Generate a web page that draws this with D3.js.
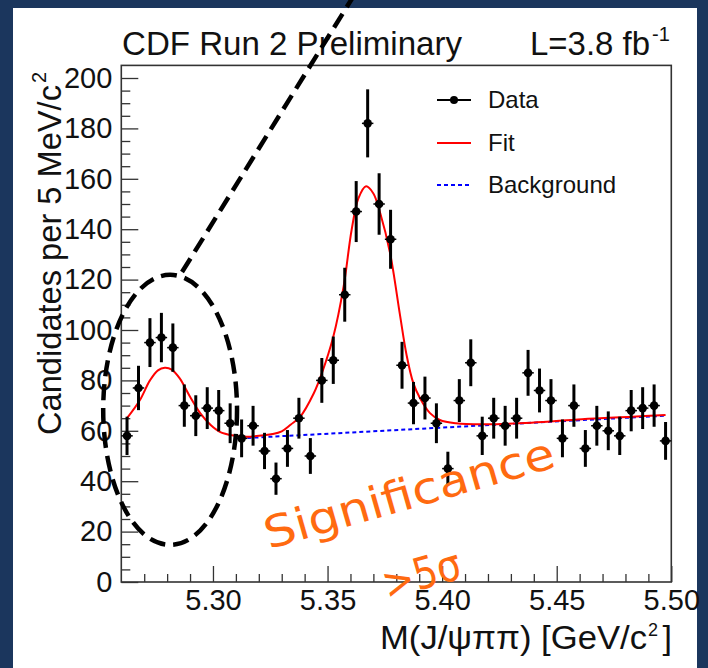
<!DOCTYPE html>
<html>
<head>
<meta charset="utf-8">
<script src="https://cdn.jsdelivr.net/npm/d3@7"></script>
<style>
  html, body { margin: 0; padding: 0; background: #1b365d; }
  svg { display: block; }
</style>
</head>
<body>
<svg id="chart" width="708" height="668"></svg>
<script>
// Bin centres of M(J/psi pi pi), 5 MeV bins from 5.26 to 5.50 GeV/c^2
const binMass = [
  5.2625, 5.2675, 5.2725, 5.2775, 5.2825, 5.2875, 5.2925, 5.2975,
  5.3025, 5.3075, 5.3125, 5.3175, 5.3225, 5.3275, 5.3325, 5.3375,
  5.3425, 5.3475, 5.3525, 5.3575, 5.3625, 5.3675, 5.3725, 5.3775,
  5.3825, 5.3875, 5.3925, 5.3975, 5.4025, 5.4075, 5.4125, 5.4175,
  5.4225, 5.4275, 5.4325, 5.4375, 5.4425, 5.4475, 5.4525, 5.4575,
  5.4625, 5.4675, 5.4725, 5.4775, 5.4825, 5.4875, 5.4925, 5.4975
];
// Candidates per bin
const binCounts = [
  58, 77, 95, 97, 93, 70, 66, 69,
  68, 63, 57, 62, 52, 41, 53, 65,
  50, 80, 88, 114, 147, 182, 150, 136,
  86, 71, 73, 63, 45, 72, 87, 58,
  65, 62, 65, 83, 76, 72, 57, 70,
  53, 62, 60, 58, 68, 69, 70, 56
];
// Statistical uncertainty per bin
const binErrors = [
  7.6, 8.8, 9.7, 9.8, 9.6, 8.4, 8.1, 8.3,
  8.2, 7.9, 7.5, 7.9, 7.2, 6.4, 7.3, 8.1,
  7.1, 8.9, 9.4, 10.7, 12.1, 13.5, 12.2, 11.7,
  9.3, 8.4, 8.5, 7.9, 6.7, 8.5, 9.3, 7.6,
  8.1, 7.9, 8.1, 9.1, 8.7, 8.5, 7.5, 8.4,
  7.3, 7.9, 7.7, 7.6, 8.2, 8.3, 8.4, 7.5
];
// Fit curve, sampled along its length
const fitMass = [
  5.2625, 5.2680, 5.2725, 5.2760, 5.2790, 5.2820, 5.2855, 5.2900,
  5.2945, 5.2990, 5.3030, 5.3090, 5.3130, 5.3190, 5.3260, 5.3300,
  5.3340, 5.3380, 5.3440, 5.3475, 5.3525, 5.3570, 5.3605, 5.3635,
  5.3668, 5.3700, 5.3730, 5.3773, 5.3816, 5.3845, 5.3874, 5.3903,
  5.3947, 5.3990, 5.4060, 5.4175, 5.4390, 5.4610, 5.4830, 5.4975
];
const fitValue = [
  65.0, 72.0, 80.0, 84.0, 85.0, 84.3, 80.8, 73.5,
  66.9, 62.3, 59.6, 58.1, 57.7, 57.9, 58.7, 59.8,
  62.5, 65.5, 74.9, 82.8, 97.3, 117.2, 139.7, 152.3,
  157.0, 154.2, 146.3, 130.4, 106.0, 90.0, 79.0, 73.0,
  67.0, 64.3, 63.0, 62.6, 63.2, 64.6, 65.6, 66.3
];
// Background component (linear)
const bkgMass = [5.312, 5.4975];
const bkgValue = [57.0, 66.0];

// Axis ticks
const xMajorTicks = [5.30, 5.35, 5.40, 5.45, 5.50];
const xMinorTicks = [5.27, 5.28, 5.29, 5.31, 5.32, 5.33, 5.34, 5.36, 5.37, 5.38, 5.39,
                     5.41, 5.42, 5.43, 5.44, 5.46, 5.47, 5.48, 5.49];
const yMajorTicks = [0, 20, 40, 60, 80, 100, 120, 140, 160, 180, 200];
const yMinorTicks = [5, 10, 15, 25, 30, 35, 45, 50, 55, 65, 70, 75, 85, 90, 95,
                     105, 110, 115, 125, 130, 135, 145, 150, 155, 165, 170, 175,
                     185, 190, 195];

// Legend entries
const legendLabels = ["Data", "Fit", "Background"];

// Annotation: ellipse around the low-mass bump and its pointer
const ringCentre = [5.2813, 68.3];
const ringRadius = [0.0292, 53.6];
const pointerFrom = [5.2865, 123];
const pointerTo = [5.3610, 232];

const FONT = "'Liberation Sans', Arial, Helvetica, sans-serif";

const svg = d3.select("#chart");

// page frame
svg.append("rect").attr("x", 0).attr("y", 0).attr("width", 708).attr("height", 668)
  .attr("fill", "#1b365d");
svg.append("rect").attr("x", 13).attr("y", 8).attr("width", 684).attr("height", 660)
  .attr("fill", "#ffffff");

const x = d3.scaleLinear().domain([5.26, 5.50]).range([121.3, 671.3]);
const y = d3.scaleLinear().domain([0, 205]).range([582, 65.4]);

// ticks (drawn inward, ROOT style)
const axisColour = "#333";
const gx = svg.append("g").attr("transform", `translate(0,${y(0)})`);
gx.call(d3.axisBottom(x).tickValues(xMinorTicks).tickSizeInner(-8).tickSizeOuter(0).tickFormat(""));
gx.call(g => g.select(".domain").remove());
const gxMaj = svg.append("g").attr("transform", `translate(0,${y(0)})`);
gxMaj.call(d3.axisBottom(x).tickValues(xMajorTicks).tickSizeInner(-16).tickSizeOuter(0)
  .tickPadding(7).tickFormat(d3.format(".2f")));
gxMaj.call(g => g.select(".domain").remove());

const gy = svg.append("g").attr("transform", `translate(${x(5.26)},0)`);
gy.call(d3.axisLeft(y).tickValues(yMinorTicks).tickSizeInner(-9).tickSizeOuter(0).tickFormat(""));
gy.call(g => g.select(".domain").remove());
const gyMaj = svg.append("g").attr("transform", `translate(${x(5.26)},0)`);
gyMaj.call(d3.axisLeft(y).tickValues(yMajorTicks).tickSizeInner(-17).tickSizeOuter(0)
  .tickPadding(9).tickFormat(d3.format("d")));
gyMaj.call(g => g.select(".domain").remove());

svg.selectAll(".tick line").attr("stroke", axisColour).attr("stroke-width", 1.3);
svg.selectAll(".tick text").attr("font-family", FONT).attr("font-size", 29).attr("fill", "#111");

// plot frame
svg.append("rect")
  .attr("x", x(5.26)).attr("y", y(205))
  .attr("width", x(5.50) - x(5.26)).attr("height", y(0) - y(205))
  .attr("fill", "none").attr("stroke", axisColour).attr("stroke-width", 1.6);

// background component
const bkgPts = bkgMass.map((m, i) => [m, bkgValue[i]]);
svg.append("path")
  .attr("d", d3.line().x(d => x(d[0])).y(d => y(d[1]))(bkgPts))
  .attr("fill", "none").attr("stroke", "#0000ff").attr("stroke-width", 2)
  .attr("stroke-dasharray", "4 3");

// total fit
const fitPts = fitMass.map((m, i) => [m, fitValue[i]]);
svg.append("path")
  .attr("d", d3.line().x(d => x(d[0])).y(d => y(d[1])).curve(d3.curveCatmullRom)(fitPts))
  .attr("fill", "none").attr("stroke", "#ff0000").attr("stroke-width", 2);

// data points with error bars
const pts = binMass.map((m, i) => ({ m, n: binCounts[i], e: binErrors[i] }));
const gp = svg.append("g");
gp.selectAll("line.err").data(pts).join("line").attr("class", "err")
  .attr("x1", d => x(d.m)).attr("x2", d => x(d.m))
  .attr("y1", d => y(d.n + d.e)).attr("y2", d => y(d.n - d.e))
  .attr("stroke", "#000").attr("stroke-width", 3);
gp.selectAll("line.hbar").data(pts).join("line").attr("class", "hbar")
  .attr("x1", d => x(d.m - 0.0025)).attr("x2", d => x(d.m + 0.0025))
  .attr("y1", d => y(d.n)).attr("y2", d => y(d.n))
  .attr("stroke", "#000").attr("stroke-width", 1.5);
gp.selectAll("circle").data(pts).join("circle")
  .attr("cx", d => x(d.m)).attr("cy", d => y(d.n)).attr("r", 4.3).attr("fill", "#000");

// legend
const lg = svg.append("g").attr("font-family", FONT).attr("font-size", 24).attr("fill", "#111");
const legendY = [100, 143, 185];
legendLabels.forEach((t, i) => {
  lg.append("text").attr("x", 488).attr("y", legendY[i]).attr("dy", "0.35em").text(t);
});
lg.append("line").attr("x1", 437).attr("x2", 471).attr("y1", legendY[0]).attr("y2", legendY[0])
  .attr("stroke", "#000").attr("stroke-width", 2);
lg.append("circle").attr("cx", 454).attr("cy", legendY[0]).attr("r", 4).attr("fill", "#000");
lg.append("line").attr("x1", 437).attr("x2", 471).attr("y1", legendY[1]).attr("y2", legendY[1])
  .attr("stroke", "#ff0000").attr("stroke-width", 2);
lg.append("line").attr("x1", 437).attr("x2", 471).attr("y1", legendY[2]).attr("y2", legendY[2])
  .attr("stroke", "#0000ff").attr("stroke-width", 2).attr("stroke-dasharray", "4 3");

// titles
svg.append("text").attr("x", 122).attr("y", 55)
  .attr("font-family", FONT).attr("font-size", 34).attr("fill", "#111")
  .attr("textLength", 340).attr("lengthAdjust", "spacingAndGlyphs")
  .text("CDF Run 2 Preliminary");
svg.append("text").attr("x", 530).attr("y", 55)
  .attr("font-family", FONT).attr("font-size", 34).attr("fill", "#111")
  .attr("textLength", 120).attr("lengthAdjust", "spacingAndGlyphs")
  .text("L=3.8 fb");
svg.append("text").attr("x", 652).attr("y", 41)
  .attr("font-family", FONT).attr("font-size", 20).attr("fill", "#111")
  .text("-1");

// x-axis title
svg.append("text").attr("x", 380).attr("y", 649)
  .attr("font-family", FONT).attr("font-size", 34).attr("fill", "#111")
  .attr("textLength", 267).attr("lengthAdjust", "spacingAndGlyphs")
  .text("M(J/ψππ) [GeV/c");
svg.append("text").attr("x", 648).attr("y", 636)
  .attr("font-family", FONT).attr("font-size", 18).attr("fill", "#111").text("2");
svg.append("text").attr("x", 672).attr("y", 649).attr("text-anchor", "end")
  .attr("font-family", FONT).attr("font-size", 34).attr("fill", "#111").text("]");

// y-axis title
const yt = svg.append("g").attr("transform", "translate(61,435) rotate(-90)");
yt.append("text").attr("x", 0).attr("y", 0)
  .attr("font-family", FONT).attr("font-size", 34).attr("fill", "#111")
  .attr("textLength", 350).attr("lengthAdjust", "spacingAndGlyphs")
  .text("Candidates per 5 MeV/c");
yt.append("text").attr("x", 352).attr("y", -15)
  .attr("font-family", FONT).attr("font-size", 20).attr("fill", "#111").text("2");

// annotation ring and pointer
const dash = "16 8";
svg.append("ellipse")
  .attr("cx", x(ringCentre[0])).attr("cy", y(ringCentre[1]))
  .attr("rx", x(ringCentre[0] + ringRadius[0]) - x(ringCentre[0]))
  .attr("ry", y(ringCentre[1]) - y(ringCentre[1] + ringRadius[1]))
  .attr("fill", "none").attr("stroke", "#000").attr("stroke-width", 4.5)
  .attr("stroke-dasharray", dash);
svg.append("line")
  .attr("x1", x(pointerFrom[0])).attr("y1", y(pointerFrom[1]))
  .attr("x2", x(pointerTo[0])).attr("y2", y(pointerTo[1]))
  .attr("stroke", "#000").attr("stroke-width", 4.5).attr("stroke-dasharray", dash);

// significance note
const noteFont = "'Comic Sans MS', 'DejaVu Sans', sans-serif";
svg.append("text")
  .attr("transform", `translate(${x(5.3245)},${y(13)}) rotate(-16)`)
  .attr("font-family", noteFont).attr("font-size", 44).attr("fill", "#ff6a10")
  .attr("textLength", 300).attr("lengthAdjust", "spacingAndGlyphs")
  .text("Significance");
svg.append("text")
  .attr("transform", `translate(${x(5.376)},${y(-7)}) rotate(-16)`)
  .attr("font-family", noteFont).attr("font-size", 44).attr("fill", "#ff6a10")
  .attr("textLength", 80).attr("lengthAdjust", "spacingAndGlyphs")
  .text(">5σ");
</script>
</body>
</html>
